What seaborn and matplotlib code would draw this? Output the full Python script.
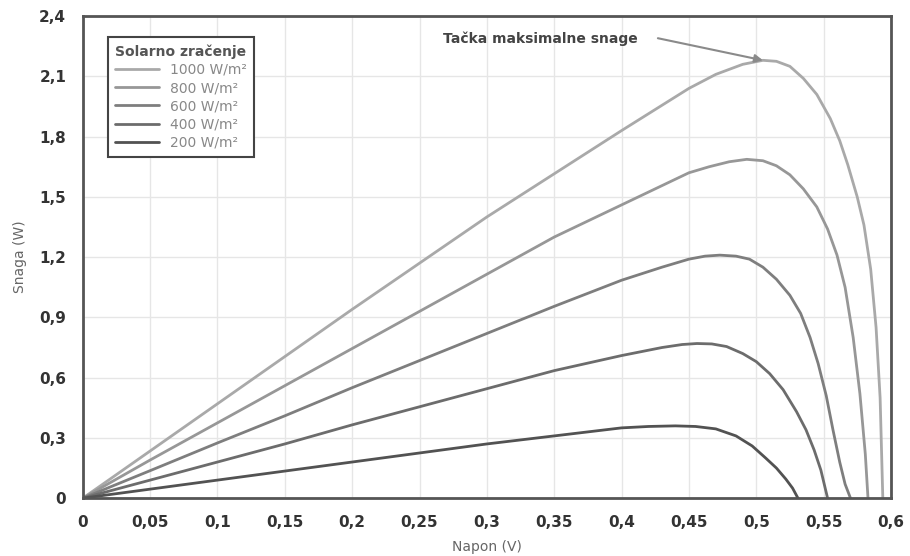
import pandas as pd
import matplotlib
matplotlib.use("Agg")
import matplotlib.pyplot as plt
import seaborn as sns

# Solar cell P-V curves
V_1000 = [0, 0.05, 0.1, 0.15, 0.2, 0.25, 0.3, 0.35, 0.4, 0.45, 0.47, 0.49, 0.505, 0.515, 0.525, 0.535, 0.545, 0.555, 0.562, 0.568, 0.575, 0.58, 0.585, 0.589, 0.592, 0.594]
P_1000 = [0, 0.235, 0.47, 0.705, 0.94, 1.17, 1.40, 1.615, 1.83, 2.04, 2.11, 2.16, 2.18, 2.175, 2.15, 2.09, 2.01, 1.89, 1.78, 1.66, 1.50, 1.36, 1.14, 0.85, 0.50, 0]

V_800 = [0, 0.05, 0.1, 0.15, 0.2, 0.25, 0.3, 0.35, 0.4, 0.45, 0.465, 0.48, 0.493, 0.505, 0.515, 0.525, 0.535, 0.545, 0.553, 0.56, 0.566, 0.572, 0.577, 0.581, 0.583]
P_800 = [0, 0.19, 0.375, 0.56, 0.745, 0.93, 1.115, 1.30, 1.46, 1.62, 1.65, 1.675, 1.687, 1.68, 1.655, 1.61, 1.54, 1.45, 1.34, 1.21, 1.05, 0.80, 0.52, 0.22, 0]

V_600 = [0, 0.05, 0.1, 0.15, 0.2, 0.25, 0.3, 0.35, 0.4, 0.43, 0.45, 0.462, 0.473, 0.485, 0.495, 0.505, 0.515, 0.525, 0.533, 0.54, 0.546, 0.552, 0.557, 0.562, 0.566, 0.57]
P_600 = [0, 0.137, 0.275, 0.41, 0.55, 0.685, 0.82, 0.955, 1.085, 1.15, 1.19, 1.205, 1.21, 1.205, 1.19, 1.15, 1.09, 1.01, 0.92, 0.80, 0.67, 0.51, 0.34, 0.18, 0.07, 0]

V_400 = [0, 0.05, 0.1, 0.15, 0.2, 0.25, 0.3, 0.35, 0.4, 0.43, 0.445, 0.456, 0.467, 0.478, 0.49, 0.5, 0.51, 0.52, 0.53, 0.537, 0.543, 0.548, 0.553]
P_400 = [0, 0.09, 0.18, 0.27, 0.365, 0.455, 0.545, 0.635, 0.71, 0.75, 0.765, 0.77, 0.768, 0.755, 0.72, 0.68, 0.62, 0.54, 0.43, 0.34, 0.24, 0.14, 0]

V_200 = [0, 0.05, 0.1, 0.15, 0.2, 0.25, 0.3, 0.35, 0.4, 0.42, 0.44, 0.455, 0.47, 0.485, 0.497, 0.507, 0.515, 0.522, 0.527, 0.531]
P_200 = [0, 0.045, 0.09, 0.135, 0.18, 0.225, 0.27, 0.31, 0.35, 0.357, 0.36, 0.357, 0.345, 0.31, 0.26, 0.20, 0.15, 0.095, 0.05, 0]

labels = ["1000 W/m²", "800 W/m²", "600 W/m²", "400 W/m²", "200 W/m²"]
colors = ["#a9a9a9", "#979797", "#7e7e7e", "#6c6c6c", "#525252"]

x_ticks = [0, 0.05, 0.1, 0.15, 0.2, 0.25, 0.3, 0.35, 0.4, 0.45, 0.5, 0.55, 0.6]
x_tick_labels = ["0", "0,05", "0,1", "0,15", "0,2", "0,25", "0,3", "0,35", "0,4", "0,45", "0,5", "0,55", "0,6"]
y_ticks = [0, 0.3, 0.6, 0.9, 1.2, 1.5, 1.8, 2.1, 2.4]
y_tick_labels = ["0", "0,3", "0,6", "0,9", "1,2", "1,5", "1,8", "2,1", "2,4"]

frames = []
for lab, v, p in zip(labels, [V_1000, V_800, V_600, V_400, V_200], [P_1000, P_800, P_600, P_400, P_200]):
    frames.append(pd.DataFrame({"Napon": v, "Snaga": p, "Zracenje": lab}))
df = pd.concat(frames, ignore_index=True)

sns.set_theme(style="whitegrid")
plt.rcParams["font.family"] = ["DejaVu Sans"]

fig = plt.figure(figsize=(9.1, 5.56), dpi=100)
ax = fig.add_axes([0.091, 0.104, 0.888, 0.867])

sns.lineplot(data=df, x="Napon", y="Snaga", hue="Zracenje", palette=dict(zip(labels, colors)),
             linewidth=2, sort=False, ax=ax)

ax.set_xlim(0, 0.6)
ax.set_ylim(0, 2.4)
ax.set_xticks(x_ticks)
ax.set_xticklabels(x_tick_labels)
ax.set_yticks(y_ticks)
ax.set_yticklabels(y_tick_labels)
ax.tick_params(axis="both", labelsize=11, colors="#333333", pad=6)
for t in ax.get_xticklabels() + ax.get_yticklabels():
    t.set_fontweight("bold")

ax.grid(True, color="#e6e6e6", linewidth=1)
for s in ax.spines.values():
    s.set_visible(True)
    s.set_color("#555555")
    s.set_linewidth(2)

ax.set_xlabel("Napon (V)", fontsize=10, color="#666666", labelpad=7)
ax.set_ylabel("Snaga (W)", fontsize=10, color="#666666", labelpad=9)

leg = ax.legend(title="Solarno zračenje", loc="upper left", bbox_to_anchor=(0.031, 0.956),
                borderaxespad=0, fancybox=False, framealpha=1, fontsize=10,
                labelspacing=0.3, handlelength=3.2, handletextpad=0.8, borderpad=0.5)
leg.get_frame().set_edgecolor("#444444")
leg.get_frame().set_linewidth(1.5)
leg.get_title().set_fontweight("bold")
leg.get_title().set_color("#555555")
leg.get_title().set_fontsize(10)
for t in leg.get_texts():
    t.set_color("#888888")

ax.text(0.412, 2.285, "Tačka maksimalne snage", ha="right", va="center",
        fontsize=10, fontweight="bold", color="#444444")
ax.annotate("", xy=(0.505, 2.18), xytext=(0.427, 2.29),
            arrowprops=dict(arrowstyle="-|>", color="#8a8a8a", lw=1.5, shrinkA=0, shrinkB=0,
                            mutation_scale=12))

fig.savefig("out.png", dpi=100)
